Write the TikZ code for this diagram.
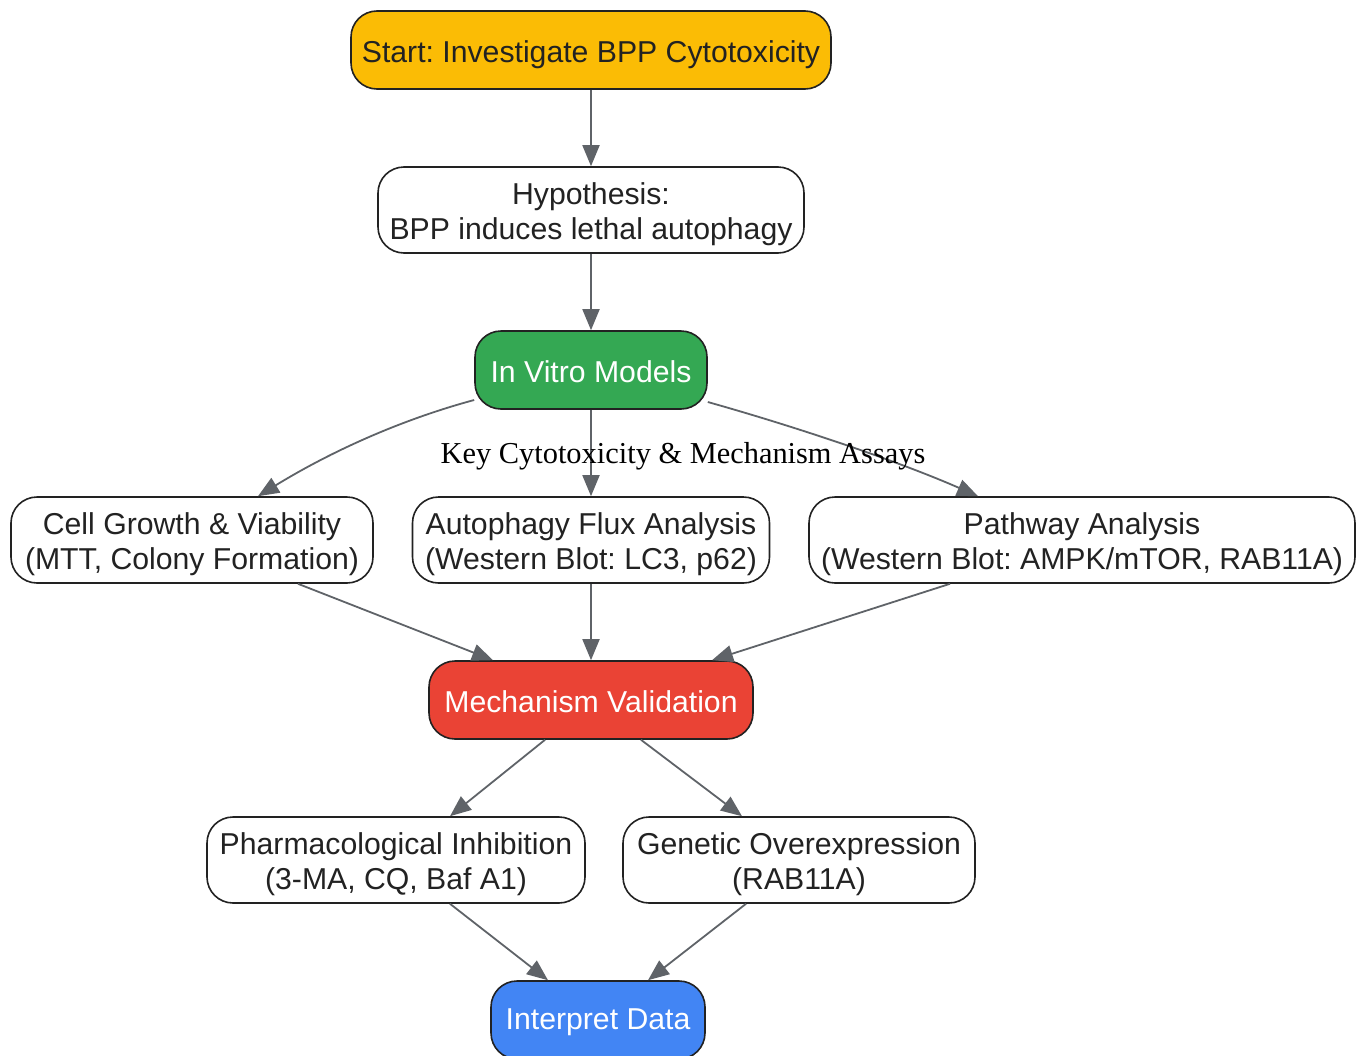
\documentclass[tikz,border=0pt]{standalone}
\usepackage{fontspec}
\setmainfont{Liberation Sans}
\newfontfamily\labelserif{Liberation Serif}
\usetikzlibrary{arrows.meta,calc}
\frenchspacing
\definecolor{cyellow}{HTML}{FBBC05}
\definecolor{cgreen}{HTML}{34A853}
\definecolor{cred}{HTML}{EA4335}
\definecolor{cblue}{HTML}{4285F4}
\definecolor{cedge}{HTML}{5F6368}
\definecolor{cborder}{HTML}{222222}
\definecolor{ctext}{HTML}{222222}
\tikzset{
  box/.style={draw=cborder, line width=1.6pt, rounded corners=26pt,
    inner sep=0pt, fill=white},
  txt/.style={align=center, inner sep=0pt, yshift=-4.5pt,
    font=\fontsize{30.2}{35}\selectfont, text=ctext},
  wtxt/.style={align=center, inner sep=0pt, yshift=-2pt,
    font=\fontsize{30.2}{35}\selectfont, text=white},
  arr/.style={draw=cedge, line width=1.8pt, -{Triangle[length=21pt,width=17pt]}},
}
\begin{document}
\begin{tikzpicture}[x=1pt,y=-1pt]
\useasboundingbox (0,0) rectangle (1360,1055);
\node[box, fill=cyellow, minimum width=480pt, minimum height=78pt,
  label={[txt]center:{Start: Investigate BPP Cytotoxicity}}] (start) at (591,50) {};
\node[box, minimum width=426pt, minimum height=86pt,
  label={[txt]center:{Hypothesis:\\BPP induces lethal autophagy}}] (hyp) at (591,210) {};
\node[box, fill=cgreen, minimum width=232pt, minimum height=78pt,
  label={[wtxt]center:{In Vitro Models}}] (invitro) at (591,370) {};
\node[box, minimum width=362pt, minimum height=86pt,
  label={[txt]center:{Cell Growth \& Viability\\(MTT, Colony Formation)}}] (cell) at (192,540) {};
\node[box, minimum width=357pt, minimum height=86pt,
  label={[txt]center:{Autophagy Flux Analysis\\(Western Blot: LC3, p62)}}] (auto) at (591,540) {};
\node[box, minimum width=546pt, minimum height=86pt,
  label={[txt]center:{Pathway Analysis\\(Western Blot: AMPK/mTOR, RAB11A)}}] (path) at (1082,540) {};
\node[box, fill=cred, minimum width=324pt, minimum height=78pt,
  label={[wtxt]center:{Mechanism Validation}}] (mech) at (591,700) {};
\node[box, minimum width=378pt, minimum height=86pt,
  label={[txt]center:{Pharmacological Inhibition\\(3-MA, CQ, Baf A1)}}] (pharm) at (396,860) {};
\node[box, minimum width=352pt, minimum height=86pt,
  label={[txt]center:{Genetic Overexpression\\(RAB11A)}}] (gen) at (799,860) {};
\node[box, fill=cblue, minimum width=214pt, minimum height=78pt,
  label={[wtxt]center:{Interpret Data}}] (interp) at (598,1020) {};

\draw[arr] (start.south) -- (hyp.north);
\draw[arr] (hyp.south) -- (invitro.north);
\draw[arr] (invitro.south) -- (invitro.south |- auto.north);
\draw[arr] ([yshift=-30pt]invitro.west) .. controls (400,420) and (330,452) .. ([xshift=66pt]cell.north);
\draw[arr] ([yshift=-32pt]invitro.east) .. controls (800,428) and (900,462) .. ([xshift=-104pt]path.north);
\draw[arr] ([xshift=106pt]cell.south) -- ([xshift=-98pt]mech.north);
\draw[arr] (auto.south) -- (auto.south |- mech.north);
\draw[arr] ([xshift=-132pt]path.south) -- ([xshift=121pt]mech.north);
\draw[arr] ([xshift=-46pt]mech.south) -- ([xshift=54pt]pharm.north);
\draw[arr] ([xshift=50pt]mech.south) -- ([xshift=-57pt]gen.north);
\draw[arr] ([xshift=54pt]pharm.south) -- ([xshift=-50pt]interp.north);
\draw[arr] ([xshift=-53pt]gen.south) -- ([xshift=50pt]interp.north);

\node[font=\labelserif\fontsize{30.4}{35}\selectfont, text=black, inner sep=0pt] (lbl) at (683,456) {Key Cytotoxicity \& Mechanism Assays};
\end{tikzpicture}
\end{document}
